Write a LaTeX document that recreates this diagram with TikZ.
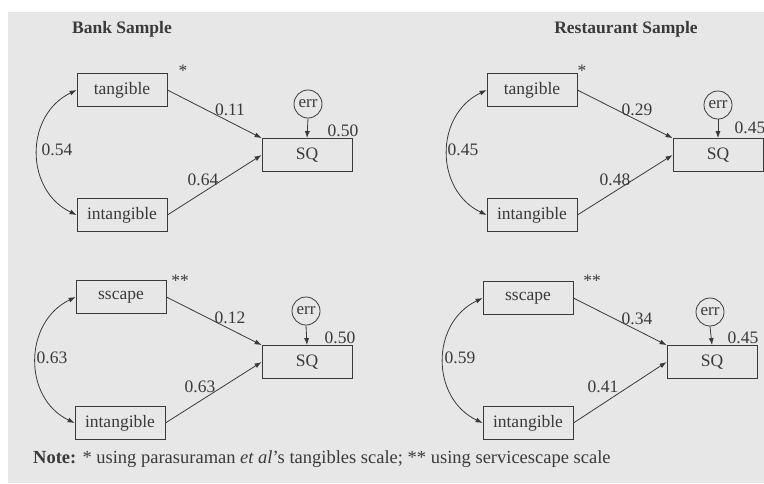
\documentclass[tikz,border=0pt]{standalone}
\usepackage{fontspec}
\setmainfont{Liberation Serif}
\usetikzlibrary{arrows.meta,calc}
\definecolor{bgc}{HTML}{E7E7E7}
\definecolor{ink}{HTML}{3A3A3A}
\tikzset{
  varbox/.style={draw=ink, line width=0.8pt, rectangle, minimum width=90pt, minimum height=33pt, inner sep=0pt, text=ink, font=\fontsize{17.5}{20}\selectfont},
  errc/.style={draw=ink, line width=0.8pt, circle, minimum size=28pt, inner sep=0pt, text=ink, font=\fontsize{17}{20}\selectfont},
  lbl/.style={inner sep=0pt, text=ink, font=\fontsize{17.5}{20}\selectfont},
  ttl/.style={inner sep=0pt, anchor=base, text=ink, font=\bfseries\fontsize{17.5}{20}\selectfont},
  starlbl/.style={inner sep=0pt, anchor=base, text=ink, font=\fontsize{17.5}{20}\selectfont},
  path1/.style={draw=ink, line width=0.8pt, -{Latex[length=7pt,width=5pt]}},
  cov/.style={draw=ink, line width=0.8pt, {Latex[length=7pt,width=5pt]}-{Latex[length=7pt,width=5pt]}},
}
\begin{document}
\begin{tikzpicture}[x=1pt,y=-1pt]
\useasboundingbox (0,0) rectangle (764,483);
\fill[white] (0,0) rectangle (764,483);
\fill[bgc] (8,12) rectangle (764,483);

% titles
\node[ttl] (ttlA) at (122,33) {Bank Sample};
\node[ttl] (ttlB) at (626,33) {Restaurant Sample};

% ---------- panel 1: bank, tangible ----------
\node[varbox] (t1) at (122,90) {tangible};
\node[varbox] (i1) at (122,215) {intangible};
\node[varbox] (q1) at (307,155) {SQ};
\node[errc] (e1) at (308,104) {err};
\node[starlbl] (s1) at (183,76) {*};
\draw[path1] (t1.east) -- (q1.north west);
\draw[path1] (i1.east) -- (q1.west);
\draw[path1] (e1.south) -- (q1.north);
\draw[cov] (t1.west) .. controls +(-52,25) and +(-52,-25) .. (i1.west);
\node[lbl] (a1) at (230,110) {0.11};
\node[lbl] (b1) at (203,180) {0.64};
\node[lbl] (c1) at (57,150) {0.54};
\node[lbl] (r1) at (343,131) {0.50};

% ---------- panel 2: restaurant, tangible ----------
\node[varbox] (t2) at (532,90) {tangible};
\node[varbox] (i2) at (532,215) {intangible};
\node[varbox] (q2) at (718,155) {SQ};
\node[errc] (e2) at (718,105) {err};
\node[starlbl] (s2) at (582,76) {*};
\draw[path1] (t2.east) -- (q2.north west);
\draw[path1] (i2.east) -- (q2.west);
\draw[path1] (e2.south) -- (q2.north);
\draw[cov] (t2.west) .. controls +(-52,25) and +(-52,-25) .. (i2.west);
\node[lbl] (a2) at (637,110) {0.29};
\node[lbl] (b2) at (615,180) {0.48};
\node[lbl] (c2) at (463,150) {0.45};
\node[lbl] (r2) at (750,128) {0.45};

% ---------- panel 3: bank, sscape ----------
\node[varbox] (t3) at (121,297) {sscape};
\node[varbox] (i3) at (120,423) {intangible};
\node[varbox] (q3) at (307,362) {SQ};
\node[errc] (e3) at (306,311) {err};
\node[starlbl] (s3) at (180,286) {**};
\draw[path1] (t3.east) -- (q3.north west);
\draw[path1] (i3.east) -- (q3.west);
\draw[path1] (e3.south) -- (q3.north);
\draw[cov] (t3.west) .. controls +(-52,25) and +(-52,-25) .. (i3.west);
\node[lbl] (a3) at (230,318) {0.12};
\node[lbl] (b3) at (200,387) {0.63};
\node[lbl] (c3) at (52,358) {0.63};
\node[lbl] (r3) at (340,338) {0.50};

% ---------- panel 4: restaurant, sscape ----------
\node[varbox] (t4) at (528,298) {sscape};
\node[varbox] (i4) at (528,423) {intangible};
\node[varbox] (q4) at (712,362) {SQ};
\node[errc] (e4) at (710,312) {err};
\node[starlbl] (s4) at (592,286) {**};
\draw[path1] (t4.east) -- (q4.north west);
\draw[path1] (i4.east) -- (q4.west);
\draw[path1] (e4.south) -- (q4.north);
\draw[cov] (t4.west) .. controls +(-52,25) and +(-52,-25) .. (i4.west);
\node[lbl] (a4) at (637,319) {0.34};
\node[lbl] (b4) at (603,387) {0.41};
\node[lbl] (c4) at (460,358) {0.59};
\node[lbl] (r4) at (743,338) {0.45};

% note
\node[inner sep=0pt, anchor=base west, text=ink, font=\fontsize{18.5}{22}\selectfont] (note) at (33,463)
  {\textbf{Note:} * using parasuraman \textit{et al}'s tangibles scale; ** using servicescape scale};
\end{tikzpicture}
\end{document}
